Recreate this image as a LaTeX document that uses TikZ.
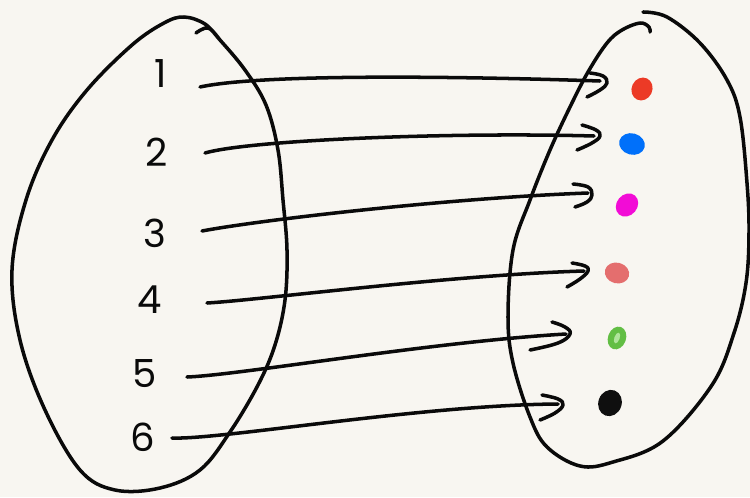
\documentclass[tikz,border=0pt]{standalone}
\usepackage{fontspec}
\setmainfont{Poppins}
\usetikzlibrary{arrows.meta,shapes.geometric}
\definecolor{paper}{RGB}{248,246,241}
\definecolor{ink}{RGB}{10,10,10}
\definecolor{dred}{RGB}{236,58,38}
\definecolor{dblue}{RGB}{0,112,250}
\definecolor{dmag}{RGB}{242,12,214}
\definecolor{dpink}{RGB}{228,110,110}
\definecolor{dgreen}{RGB}{98,190,68}
\definecolor{dgreenl}{RGB}{175,228,155}
\definecolor{dblack}{RGB}{15,15,15}
\tikzset{
  pen/.style={draw=ink, line width=3pt, line cap=round, line join=round},
  blob/.style={pen, smooth, tension=0.6},
  head/.style={pen, smooth, tension=0.7},
  num/.style={font=\fontsize{33}{36}\selectfont, text=ink, inner sep=0pt},
  dot/.style={ellipse, inner sep=0pt, draw=none},
}
\begin{document}
\begin{tikzpicture}[x=0.03cm,y=-0.03cm]
\fill[paper] (0,0) rectangle (750,497);
\useasboundingbox (0,0) rectangle (750,497);
% left set
\draw[blob] plot coordinates {(196,33) (208,28) (220,40) (245,70) (266,105) (278,150) (283,200) (287,250) (285,300) (275,345) (258,385) (230,432) (200,470) (160,488) (115,490) (80,470) (45,410) (20,340) (12,270) (26,200) (52,140) (87,90) (132,45) (164,23) (184,17) (205,24) (220,40)};
% right set
\draw[blob] plot coordinates {(643,12) (667,17) (700,43) (727,80) (740,117) (747,183) (749,233) (746,283) (734,333) (712,385) (663,441) (613,462) (580,466) (547,447) (530,417) (513,363) (508,317) (513,250) (530,200) (550,150) (570,107) (588,72) (607,43) (622,30) (640,23) (649,27) (650,32)};
% numbers
\node[num] (n1) at (161,74) {1};
\node[num] (n2) at (157,152) {2};
\node[num] (n3) at (155,233) {3};
\node[num] (n4) at (150,300) {4};
\node[num] (n5) at (145,374) {5};
\node[num] (n6) at (143,437) {6};
% dots
\node[dot, fill=dred, minimum width=0.62cm, minimum height=0.7cm, rotate=-25] (d1) at (642,89) {};
\node[dot, fill=dblue, minimum width=0.78cm, minimum height=0.64cm, rotate=-15] (d2) at (632,144) {};
\node[dot, fill=dmag, minimum width=0.62cm, minimum height=0.74cm, rotate=-40] (d3) at (627,205) {};
\node[dot, fill=dpink, minimum width=0.74cm, minimum height=0.62cm, rotate=-15] (d4) at (617,273) {};
\node[dot, fill=dgreen, minimum width=0.54cm, minimum height=0.7cm, rotate=-20] (d5) at (617,338) {};
\node[dot, fill=dgreenl, minimum width=0.16cm, minimum height=0.34cm, rotate=-20] (d5c) at (617,338) {};
\node[dot, fill=dblack, minimum width=0.7cm, minimum height=0.8cm, rotate=-20] (d6) at (610,403) {};
% arrow end points
\coordinate (a1) at (200,87);  \coordinate (b1) at (600,81);
\coordinate (a2) at (205,153); \coordinate (b2) at (594,136);
\coordinate (a3) at (202,231); \coordinate (b3) at (588,193);
\coordinate (a4) at (207,303); \coordinate (b4) at (584,271);
\coordinate (a5) at (187,377); \coordinate (b5) at (566,334);
\coordinate (a6) at (172,438); \coordinate (b6) at (558,404);
\draw[pen] (a1) .. controls (260,74) and (450,76) .. (b1);
\draw[pen] (a2) .. controls (250,140) and (450,132) .. (b2);
\draw[pen] (a3) .. controls (260,220) and (450,198) .. (b3);
\draw[pen] (a4) .. controls (260,300) and (450,275) .. (b4);
\draw[pen] (a5) .. controls (240,375) and (430,342) .. (b5);
\draw[pen] (a6) .. controls (220,440) and (420,405) .. (b6);
% arrowheads
\draw[head] plot coordinates {(590,73) (603,76) (607,83) (600,90) (587,97)};
\draw[head] plot coordinates {(582,125) (596,130) (600,136) (592,143) (577,150)};
\draw[head] plot coordinates {(573,184) (588,187) (592,195) (587,202) (575,207)};
\draw[head] plot coordinates {(572,263) (585,266) (588,271) (580,279) (567,287)};
\draw[head] plot coordinates {(552,322) (565,327) (570,334) (558,343) (530,350)};
\draw[head] plot coordinates {(542,395) (558,399) (563,405) (555,413) (540,420)};
\end{tikzpicture}
\end{document}
